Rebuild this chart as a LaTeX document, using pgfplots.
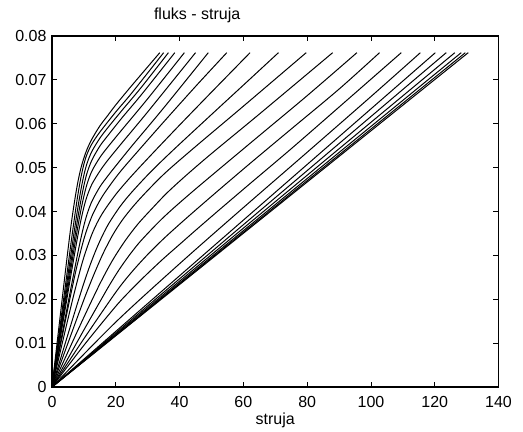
\documentclass[border=0pt]{standalone}
\usepackage{fontspec}
\setmainfont{Liberation Sans}
\usepackage{pgfplots}
\pgfplotsset{compat=1.18}
\begin{document}
\fontsize{12}{14}\selectfont
\begin{tikzpicture}
\useasboundingbox (-39pt,-33pt) rectangle (353.25pt,290.25pt);
\begin{axis}[
  at={(0,0)}, anchor=south west, scale only axis,
  width=334.9pt, height=263.25pt,
  xmin=0, xmax=140, ymin=0, ymax=0.08,
  xtick={0,20,40,60,80,100,120,140},
  xticklabels={0,20,40,60,80,100,120,140},
  ytick={0,0.01,0.02,0.03,0.04,0.05,0.06,0.07,0.08},
  yticklabels={0,0.01,0.02,0.03,0.04,0.05,0.06,0.07,0.08},
  scaled y ticks=false,
  tick align=inside, major tick length=4pt,
  axis line style={line width=0.8pt},
  every tick/.style={black, line width=0.6pt},
  ticklabel style={font=\fontsize{12}{14}\selectfont},
  xticklabel style={yshift=-3pt},
  title={fluks - struja},
  every axis title/.style={at={(axis description cs:0.325,1)}, anchor=base, yshift=12.75pt, font=\fontsize{12}{14}\selectfont},
  xlabel={struja},
  every axis x label/.style={at={(axis description cs:0.5,0)}, anchor=base, yshift=-28pt, font=\fontsize{12}{14}\selectfont},
  curve/.style={black, line width=0.75pt, smooth, mark=none},
]
% curve 1 (aligned)
\addplot[curve] coordinates {(0,0) (2,0.0126) (4,0.0251) (5,0.0312) (6,0.0370) (7,0.0420) (8,0.0463) (9,0.0497) (10,0.0522) (11,0.0542) (12.5,0.0565) (15,0.0595) (17.5,0.0619) (20,0.0643) (25,0.0687) (33.8,0.0762)};
\addplot[curve] coordinates {(0,0) (3,0.0165) (5,0.0275) (6,0.0330) (7,0.0383) (8,0.0433) (9,0.0475) (10,0.0508) (11,0.0531) (12.5,0.0554) (15,0.0581) (20,0.0627) (25,0.0670) (35,0.0762)};
\addplot[curve] coordinates {(0,0) (3,0.0153) (5,0.0255) (6,0.0306) (7,0.0356) (8,0.0404) (9,0.0447) (10,0.0483) (11,0.0510) (12.5,0.0537) (15,0.0567) (17.5,0.0591) (22,0.0631) (28,0.0683) (36.5,0.0762)};
\addplot[curve] coordinates {(0,0) (3,0.0144) (5,0.0240) (6,0.0288) (7,0.0335) (8,0.0381) (9,0.0423) (10,0.0459) (11,0.0488) (12.5,0.0517) (15,0.0549) (17.5,0.0573) (22,0.0614) (28,0.0666) (38.5,0.0762)};
\addplot[curve] coordinates {(0,0) (3,0.0137) (5,0.0227) (6,0.0273) (7,0.0318) (8,0.0361) (9,0.0401) (10,0.0435) (11,0.0463) (12.5,0.0492) (15,0.0523) (17.5,0.0547) (22,0.0587) (30,0.0657) (41.5,0.0762)};
\addplot[curve] coordinates {(0,0) (3,0.0129) (5,0.0215) (6,0.0258) (7,0.0300) (8,0.0341) (9,0.0378) (10,0.0410) (11,0.0435) (12.5,0.0462) (15,0.0492) (17.5,0.0517) (22,0.0557) (30,0.0627) (45,0.0762)};
\addplot[curve] coordinates {(0,0) (3,0.0114) (5,0.0190) (6,0.0228) (7,0.0265) (8,0.0302) (9,0.0337) (10,0.0368) (11,0.0394) (12.5,0.0423) (15,0.0456) (17.5,0.0481) (20,0.0504) (25,0.0549) (35,0.0636) (49,0.0762)};
\addplot[curve] coordinates {(0,0) (3,0.0108) (5,0.0180) (7,0.0249) (8,0.0281) (9,0.0310) (10,0.0337) (11,0.0360) (12.5,0.0389) (14.1,0.0413) (16,0.0437) (19,0.0468) (22,0.0496) (27,0.0538) (35,0.0604) (45,0.0685) (54.8,0.0762)};
\addplot[curve] coordinates {(0,0) (3,0.0093) (5,0.0155) (7,0.0215) (9,0.0271) (10,0.0296) (11,0.0318) (12.5,0.0348) (14,0.0372) (15.5,0.0392) (17.3,0.0412) (20,0.0439) (23,0.0465) (26.2,0.0491) (32,0.0536) (40,0.0597) (50,0.0672) (62.1,0.0762)};
\addplot[curve] coordinates {(0,0) (5,0.0120) (8,0.0191) (10,0.0237) (12,0.0279) (14,0.0316) (16,0.0348) (18,0.0375) (21.4,0.0412) (25,0.0444) (30.9,0.0490) (38,0.0540) (50,0.0621) (60,0.0688) (71,0.0762)};
\addplot[curve] coordinates {(0,0) (5,0.0100) (10,0.0199) (13,0.0254) (16,0.0304) (19,0.0346) (22,0.0380) (25.6,0.0413) (30,0.0448) (35.8,0.0490) (45,0.0548) (60,0.0640) (79.7,0.0762)};
\addplot[curve] coordinates {(0,0) (5,0.0080) (10,0.0159) (15,0.0235) (19,0.0289) (23,0.0334) (27,0.0372) (31.4,0.0407) (36,0.0442) (42,0.0482) (50,0.0532) (65,0.0622) (88,0.0762)};
\addplot[curve] coordinates {(0,0) (10,0.0130) (15,0.0194) (18,0.0232) (21,0.0267) (24,0.0298) (27,0.0326) (30,0.0350) (34,0.0380) (38,0.0407) (44,0.0445) (52,0.0494) (65,0.0573) (80,0.0664) (95.6,0.0762)};
\addplot[curve] coordinates {(0,0) (10,0.0110) (20,0.0216) (25,0.0262) (30,0.0302) (35,0.0338) (40,0.0371) (45,0.0403) (52,0.0447) (62,0.0509) (75,0.0588) (90,0.0679) (102.7,0.0762)};
\addplot[curve] coordinates {(0,0) (10,0.0095) (20,0.0184) (25,0.0223) (30,0.0259) (35,0.0293) (40,0.0325) (45,0.0357) (52,0.0401) (62,0.0463) (75,0.0543) (90,0.0638) (109.5,0.0762)};
\addplot[curve] coordinates {(0,0) (20,0.0148) (40,0.0281) (58.6,0.0400) (80,0.0535) (100,0.0662) (115.5,0.0762)};
% near-unaligned curves
\addplot[curve] coordinates {(0,0) (120.2,0.0762)};
\addplot[curve] coordinates {(0,0) (123.6,0.0762)};
\addplot[curve] coordinates {(0,0) (126.3,0.0762)};
\addplot[curve] coordinates {(0,0) (128.3,0.0762)};
\addplot[curve] coordinates {(0,0) (129.6,0.0762)};
\addplot[curve] coordinates {(0,0) (130.5,0.0762)};
\end{axis}
\end{tikzpicture}
\end{document}
